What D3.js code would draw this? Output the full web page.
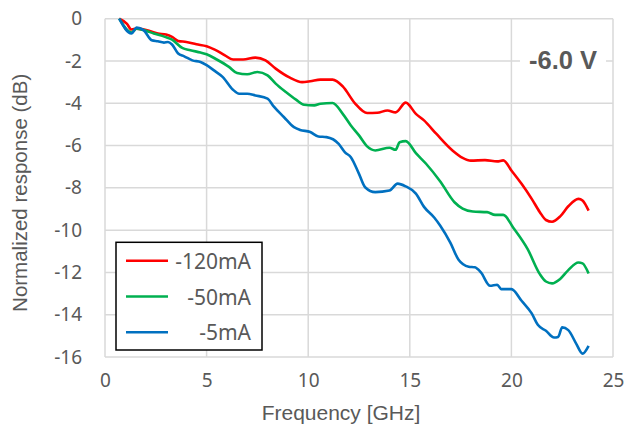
<!DOCTYPE html>
<html>
<head>
<meta charset="utf-8">
<script src="https://cdn.jsdelivr.net/npm/d3@7"></script>
<style>
  body { margin: 0; background: #fff; }
  svg { display: block; }
</style>
</head>
<body>
<div id="chart"></div>
<script>
// frequency in GHz, response in dB
const freqRed = [0.7,1.07,1.3,1.56,2.2,2.6,3.0,3.3,3.6,4.0,4.5,5.0,5.4,5.9,6.3,6.8,7.4,7.9,8.4,9.1,9.7,10.1,10.6,11.2,11.7,12.3,12.9,13.4,13.9,14.3,14.8,15.3,15.7,16.3,17.1,17.6,18.0,18.7,19.3,19.6,20.0,20.5,21.0,21.4,21.7,22.0,22.4,22.8,23.3,23.5,23.8]
const respRed = [0,-0.23,-0.51,-0.47,-0.58,-0.7,-0.75,-0.86,-1.05,-1.1,-1.21,-1.3,-1.46,-1.73,-1.93,-1.93,-1.84,-1.97,-2.36,-2.79,-3.0,-2.96,-2.88,-2.88,-3.2,-4.0,-4.46,-4.45,-4.34,-4.43,-3.97,-4.5,-4.81,-5.44,-6.23,-6.58,-6.71,-6.69,-6.75,-6.7,-7.18,-7.81,-8.52,-9.15,-9.52,-9.6,-9.35,-8.87,-8.52,-8.6,-9.08]

const freqGreen = [0.7,1.3,1.56,1.9,2.4,2.95,3.3,3.8,4.2,4.7,5.0,5.5,6.1,6.5,7.0,7.5,8.0,8.4,8.9,9.4,9.8,10.3,10.6,11.2,11.7,12.1,12.5,12.9,13.3,14.0,14.3,14.5,14.8,15.3,15.8,16.5,17.2,17.6,18.1,18.8,19.2,19.6,20.1,20.8,21.4,21.7,22.0,22.4,22.8,23.3,23.5,23.8]
const respGreen = [0,-0.65,-0.47,-0.54,-0.7,-0.86,-0.99,-1.38,-1.49,-1.6,-1.68,-1.93,-2.28,-2.57,-2.63,-2.52,-2.68,-3.07,-3.47,-3.83,-4.07,-4.1,-4.02,-3.99,-4.5,-5.05,-5.52,-6.04,-6.23,-6.1,-6.2,-5.84,-5.79,-6.36,-6.86,-7.7,-8.68,-8.98,-9.12,-9.15,-9.28,-9.28,-9.9,-10.9,-12.08,-12.43,-12.52,-12.31,-11.89,-11.53,-11.57,-12.05]

const freqBlue = [0.7,1.3,1.56,1.9,2.3,2.6,2.9,3.1,3.3,3.6,3.9,4.3,4.7,5.0,5.4,5.8,6.3,6.6,7.0,7.4,8.0,8.3,8.8,9.3,9.6,10.1,10.5,10.9,11.5,11.8,12.1,12.5,12.8,13.3,14.0,14.4,14.8,15.3,15.7,16.2,16.5,17.0,17.4,17.9,18.2,18.5,18.95,19.3,19.5,20.0,20.5,21.0,21.3,21.7,22.1,22.3,22.5,22.8,23.2,23.5,23.8]
const respBlue = [0,-0.7,-0.42,-0.54,-1.02,-1.07,-1.13,-1.1,-1.22,-1.65,-1.78,-1.97,-2.05,-2.2,-2.47,-2.76,-3.36,-3.55,-3.55,-3.63,-3.78,-4.15,-4.65,-5.13,-5.26,-5.36,-5.57,-5.6,-5.92,-6.31,-6.55,-7.34,-7.97,-8.2,-8.13,-7.8,-7.93,-8.27,-8.9,-9.4,-9.79,-10.6,-11.4,-11.73,-11.76,-12.0,-12.63,-12.58,-12.79,-12.79,-13.34,-13.94,-14.48,-14.76,-15.08,-15.05,-14.6,-14.73,-15.39,-15.84,-15.47]

const seriesNames = ["-120mA", "-50mA", "-5mA"]
const xTicks = [0, 5, 10, 15, 20, 25]
const yTicks = [0, -2, -4, -6, -8, -10, -12, -14, -16]
const voltageLabel = "-6.0 V"

const W = 627, H = 432
const MARGIN = { TOP: 18.7, BOTTOM: 75, LEFT: 105, RIGHT: 14 }
const WIDTH = W - MARGIN.LEFT - MARGIN.RIGHT
const HEIGHT = H - MARGIN.TOP - MARGIN.BOTTOM
const TEXT = "#595959"
const GRID = "#d9d9d9"
const COLORS = ["#ff0000", "#00b050", "#0070c0"]

const series = [
  { name: seriesNames[0], f: freqRed, r: respRed, color: COLORS[0] },
  { name: seriesNames[1], f: freqGreen, r: respGreen, color: COLORS[1] },
  { name: seriesNames[2], f: freqBlue, r: respBlue, color: COLORS[2] }
]

const svg = d3.select("#chart").append("svg")
    .attr("width", W)
    .attr("height", H)

const g = svg.append("g")
    .attr("transform", `translate(${MARGIN.LEFT},${MARGIN.TOP})`)

const x = d3.scaleLinear().domain([0, 25]).range([0, WIDTH])
const y = d3.scaleLinear().domain([-16, 0]).range([HEIGHT, 0])

// grid
g.append("g").selectAll("line.v")
  .data(xTicks)
  .enter().append("line")
    .attr("x1", d => x(d)).attr("x2", d => x(d))
    .attr("y1", 0).attr("y2", HEIGHT)
    .attr("stroke", GRID).attr("stroke-width", 1.5)

g.append("g").selectAll("line.h")
  .data(yTicks)
  .enter().append("line")
    .attr("x1", 0).attr("x2", WIDTH)
    .attr("y1", d => y(d)).attr("y2", d => y(d))
    .attr("stroke", GRID).attr("stroke-width", 1.5)

// axes (labels only)
const xAxis = g.append("g")
    .attr("transform", `translate(0,${HEIGHT})`)
    .call(d3.axisBottom(x).tickValues(xTicks).tickSize(0).tickPadding(17).tickFormat(d => String(d)))
const yAxis = g.append("g")
    .call(d3.axisLeft(y).tickValues(yTicks).tickSize(0).tickPadding(23).tickFormat(d => String(d)))

for (const ax of [xAxis, yAxis]) {
  ax.select(".domain").remove()
  ax.selectAll("text")
    .attr("fill", TEXT)
    .style("font-family", "'Noto Sans', sans-serif")
    .style("font-size", "19px")
}

svg.append("text")
    .attr("x", MARGIN.LEFT + WIDTH / 2 - 18)
    .attr("y", 420)
    .attr("text-anchor", "middle")
    .attr("fill", TEXT)
    .style("font-family", "'Liberation Sans', Arial, sans-serif")
    .style("font-size", "21px")
    .text("Frequency [GHz]")

svg.append("text")
    .attr("transform", `translate(27,${MARGIN.TOP + HEIGHT / 2 + 5}) rotate(-90)`)
    .attr("text-anchor", "middle")
    .attr("fill", TEXT)
    .style("font-family", "'Liberation Sans', Arial, sans-serif")
    .style("font-size", "20.5px")
    .text("Normalized response (dB)")

// curves
const line = d3.line()
    .x(d => x(d[0]))
    .y(d => y(d[1]))
    .curve(d3.curveMonotoneX)

g.selectAll("path.curve")
  .data(series)
  .enter().append("path")
    .attr("class", "curve")
    .attr("d", s => line(s.f.map((f, i) => [f, s.r[i]])))
    .attr("fill", "none")
    .attr("stroke", s => s.color)
    .attr("stroke-width", 2.6)
    .attr("stroke-linejoin", "round")

// voltage tag
const tag = svg.append("g")
tag.append("rect")
    .attr("x", 520).attr("y", 43)
    .attr("width", 86).attr("height", 36)
    .attr("fill", "#fff")
tag.append("text")
    .attr("x", 563).attr("y", 69)
    .attr("text-anchor", "middle")
    .attr("fill", TEXT)
    .style("font-family", "'Liberation Sans', Arial, sans-serif")
    .style("font-weight", "bold")
    .style("font-size", "25.5px")
    .text(voltageLabel)

// legend
const legend = svg.append("g").attr("transform", "translate(116,242.3)")
legend.append("rect")
    .attr("width", 146).attr("height", 107.7)
    .attr("fill", "#fff")
    .attr("stroke", "#000").attr("stroke-width", 1.5)

const item = legend.selectAll("g.item")
  .data(series)
  .enter().append("g")
    .attr("transform", (d, i) => `translate(0,${18.4 + i * 35.8})`)
item.append("line")
    .attr("x1", 10).attr("x2", 52)
    .attr("stroke", d => d.color).attr("stroke-width", 2.6)
item.append("text")
    .attr("x", 135).attr("y", 8)
    .attr("text-anchor", "end")
    .attr("fill", TEXT)
    .style("font-family", "'Noto Sans', sans-serif")
    .style("font-size", "21px")
    .text(d => d.name)
</script>
</body>
</html>
